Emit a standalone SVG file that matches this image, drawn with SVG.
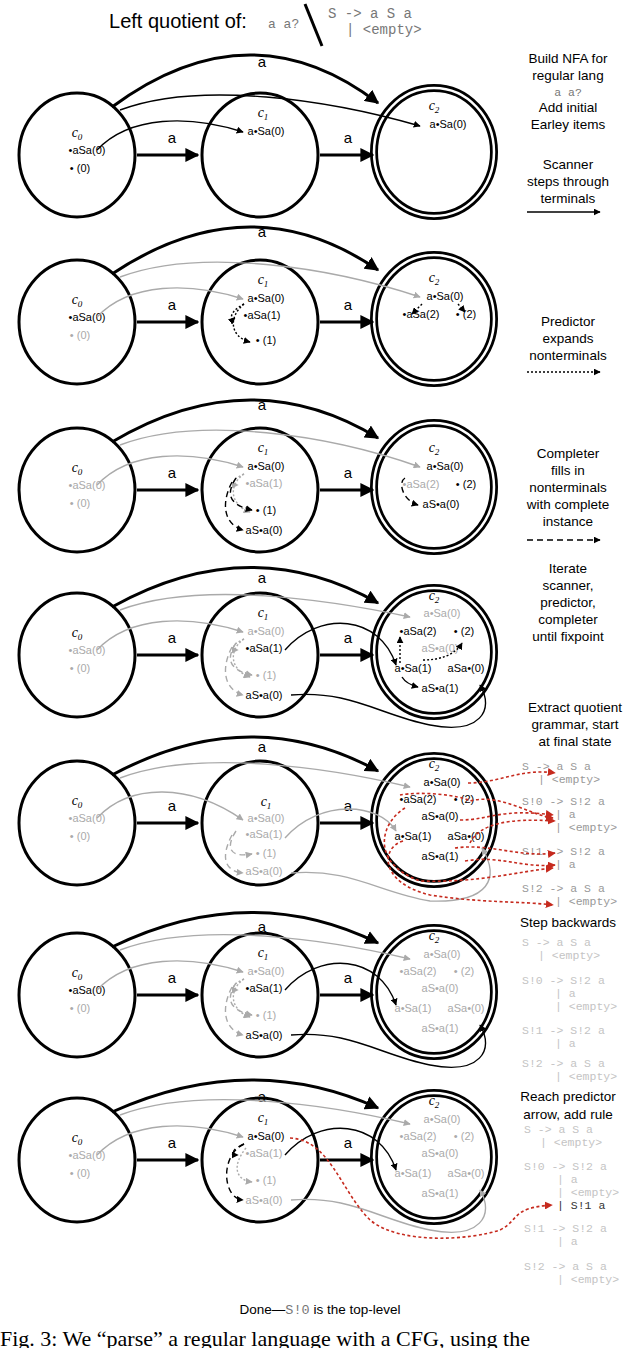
<svg xmlns="http://www.w3.org/2000/svg" width="640" height="1348" viewBox="0 0 640 1348">
<style>
text{font-family:"Liberation Sans",Arial,sans-serif;fill:#000}
.it{font-size:11px;text-anchor:middle}
.g{fill:#aaa}
.cl{font-family:"Liberation Serif",serif;font-style:italic;font-size:14px;text-anchor:middle}
.st{fill:none;stroke:#000;stroke-width:3}
.c2o{fill:none;stroke:#000;stroke-width:8}
.c2i{fill:none;stroke:#fff;stroke-width:2.5}
.tr{fill:none;stroke:#000;stroke-width:3;marker-end:url(#ab)}
.ln{fill:none;stroke:#000;stroke-width:1.4;marker-end:url(#as)}
.lg{fill:none;stroke:#aaa;stroke-width:1.4;marker-end:url(#ag)}
.dot{fill:none;stroke:#000;stroke-width:1.4;stroke-dasharray:2 2;marker-end:url(#as)}
.dotg{fill:none;stroke:#aaa;stroke-width:1.4;stroke-dasharray:2 2;marker-end:url(#ag)}
.dsh{fill:none;stroke:#000;stroke-width:1.4;stroke-dasharray:6 4;marker-end:url(#as)}
.dshg{fill:none;stroke:#aaa;stroke-width:1.4;stroke-dasharray:6 4;marker-end:url(#ag)}
.red{fill:none;stroke:#c62a1e;stroke-width:1.6;stroke-dasharray:3 2.5;marker-end:url(#ar)}
.lbl{font-size:15px;text-anchor:middle}
.rt{font-size:13.5px;text-anchor:middle}
.mono{font-family:"Liberation Mono","Courier New",monospace}
.serif{font-family:"Liberation Serif","Times New Roman",serif}
.gm{font-family:"Liberation Mono",monospace;font-size:11.5px;fill:#999}
.gl{font-family:"Liberation Mono",monospace;font-size:11.5px;fill:#c4c4c4}
</style>
<defs>
<marker id="ab" viewBox="0 0 10 10" refX="9" refY="5" markerWidth="14" markerHeight="14" markerUnits="userSpaceOnUse" orient="auto"><path d="M0,0L10,5L0,10z"/></marker>
<marker id="as" viewBox="0 0 10 10" refX="9" refY="5" markerWidth="7" markerHeight="7" markerUnits="userSpaceOnUse" orient="auto"><path d="M0,0L10,5L0,10z"/></marker>
<marker id="ag" viewBox="0 0 10 10" refX="9" refY="5" markerWidth="7" markerHeight="7" markerUnits="userSpaceOnUse" orient="auto"><path d="M0,0L10,5L0,10z" fill="#aaa"/></marker>
<marker id="ar" viewBox="0 0 10 10" refX="9" refY="5" markerWidth="8" markerHeight="8" markerUnits="userSpaceOnUse" orient="auto"><path d="M0,0L10,5L0,10z" fill="#c62a1e"/></marker>
</defs>

<g id="title">
<text x="178" y="28" font-size="20" text-anchor="middle">Left quotient of:</text>
<text x="268" y="28" class="mono" font-size="13" style="fill:#777">a a?</text>
<path d="M305,4L322,46" stroke="#000" stroke-width="3"/>
<text x="328" y="18" class="mono" font-size="14" style="fill:#777">S -&gt; a S a</text>
<text x="346" y="34" class="mono" font-size="14" style="fill:#777">| &lt;empty&gt;</text>
</g>

<g id="side-text">
<text class="rt" x="568" y="63">Build NFA for</text>
<text class="rt" x="568" y="80">regular lang</text>
<text class="gm" x="568" y="96" text-anchor="middle" style="fill:#777">a a?</text>
<text class="rt" x="568" y="112">Add initial</text>
<text class="rt" x="568" y="129">Earley items</text>
<text class="rt" x="568" y="169">Scanner</text>
<text class="rt" x="568" y="186">steps through</text>
<text class="rt" x="568" y="203">terminals</text>
<path d="M527,212L600,212" class="ln"/>
<text class="rt" x="568" y="326">Predictor</text>
<text class="rt" x="568" y="343">expands</text>
<text class="rt" x="568" y="360">nonterminals</text>
<path d="M527,372L600,372" class="dot"/>
<text class="rt" x="568" y="458">Completer</text>
<text class="rt" x="568" y="475">fills in</text>
<text class="rt" x="568" y="492">nonterminals</text>
<text class="rt" x="568" y="509">with complete</text>
<text class="rt" x="568" y="526">instance</text>
<path d="M527,540L600,540" class="dsh"/>
<text class="rt" x="568" y="573">Iterate</text>
<text class="rt" x="568" y="590">scanner,</text>
<text class="rt" x="568" y="607">predictor,</text>
<text class="rt" x="568" y="624">completer</text>
<text class="rt" x="568" y="641">until fixpoint</text>
<text class="rt" x="575" y="712">Extract quotient</text>
<text class="rt" x="575" y="729">grammar, start</text>
<text class="rt" x="575" y="746">at final state</text>
<text class="gm" x="522" y="770">S -&gt; a S a</text>
<text class="gm" x="538" y="783">| &lt;empty&gt;</text>
<text class="gm" x="522" y="805">S!0 -&gt; S!2 a</text>
<text class="gm" x="555" y="818">| a</text>
<text class="gm" x="555" y="831">| &lt;empty&gt;</text>
<text class="gm" x="522" y="855">S!1 -&gt; S!2 a</text>
<text class="gm" x="555" y="868">| a</text>
<text class="gm" x="522" y="892">S!2 -&gt; a S a</text>
<text class="gm" x="555" y="905">| &lt;empty&gt;</text>
<text class="rt" x="568" y="927">Step backwards</text>
<text class="gl" x="522" y="946">S -&gt; a S a</text>
<text class="gl" x="538" y="959">| &lt;empty&gt;</text>
<text class="gl" x="522" y="984">S!0 -&gt; S!2 a</text>
<text class="gl" x="555" y="997">| a</text>
<text class="gl" x="555" y="1010">| &lt;empty&gt;</text>
<text class="gl" x="522" y="1034">S!1 -&gt; S!2 a</text>
<text class="gl" x="555" y="1047">| a</text>
<text class="gl" x="522" y="1067">S!2 -&gt; a S a</text>
<text class="gl" x="555" y="1080">| &lt;empty&gt;</text>
<text class="rt" x="568" y="1101">Reach predictor</text>
<text class="rt" x="568" y="1119">arrow, add rule</text>
<text class="gl" x="524" y="1133">S -&gt; a S a</text>
<text class="gl" x="540" y="1146">| &lt;empty&gt;</text>
<text class="gl" x="524" y="1170">S!0 -&gt; S!2 a</text>
<text class="gl" x="557" y="1183">| a</text>
<text class="gl" x="557" y="1196">| &lt;empty&gt;</text>
<text class="gm" x="557" y="1209" style="fill:#333">| S!1 a</text>
<text class="gl" x="524" y="1232">S!1 -&gt; S!2 a</text>
<text class="gl" x="557" y="1245">| a</text>
<text class="gl" x="524" y="1270">S!2 -&gt; a S a</text>
<text class="gl" x="557" y="1283">| &lt;empty&gt;</text>
<text x="320" y="1314" font-size="13.5" text-anchor="middle">Done—<tspan class="mono" style="fill:#777">S!0</tspan> is the top-level</text>
<text x="0" y="1346" class="serif" font-size="22">Fig. 3: We “parse” a regular language with a CFG, using the</text>
</g>

<!-- Panel 1 -->
<g id="panel1" transform="translate(0,155)">
<g id="p1-c0"><ellipse cx="77" cy="0" rx="58" ry="62" class="st"/><text class="cl" x="77" y="-18">c<tspan font-size="9" dy="3">0</tspan></text><text class="it" x="87" y="-1">•aSa(0)</text><text class="it" x="80" y="17">• (0)</text></g>
<g id="p1-c1"><ellipse cx="260" cy="0" rx="58" ry="62" class="st"/><text class="cl" x="263" y="-38">c<tspan font-size="9" dy="3">1</tspan></text><text class="it" x="266" y="-20">a•Sa(0)</text></g>
<g id="p1-c2"><ellipse cx="434" cy="-3" rx="60" ry="64" class="c2o"/><ellipse cx="434" cy="-3" rx="60" ry="64" class="c2i"/><text class="cl" x="434" y="-45">c<tspan font-size="9" dy="3">2</tspan></text><text class="it" x="448" y="-27">a•Sa(0)</text></g>
<g id="p1-edges">
<path d="M112,-48Q250,-150 378,-52" class="tr"/><text class="lbl" x="262" y="-88">a</text>
<path d="M137,0L198,0" class="tr"/><text class="lbl" x="172" y="-12">a</text>
<path d="M320,0L373,0" class="tr"/><text class="lbl" x="348" y="-12">a</text>
<path d="M97,-5C130,-40 190,-40 243,-23" class="ln"/>
<path d="M120,-45C200,-75 330,-55 420,-29" class="ln"/>
</g>
</g>

<!-- Panel 2 -->
<g id="panel2" transform="translate(0,322)">
<g id="p2-c0"><ellipse cx="77" cy="0" rx="58" ry="62" class="st"/><text class="cl" x="77" y="-18">c<tspan font-size="9" dy="3">0</tspan></text><text class="it" x="87" y="-1">•aSa(0)</text><text class="it g" x="80" y="17">• (0)</text></g>
<g id="p2-c1"><ellipse cx="260" cy="0" rx="58" ry="62" class="st"/><text class="cl" x="263" y="-38">c<tspan font-size="9" dy="3">1</tspan></text><text class="it" x="266" y="-20">a•Sa(0)</text><text class="it" x="262" y="-3">•aSa(1)</text><text class="it" x="266" y="22">• (1)</text></g>
<g id="p2-c2"><ellipse cx="434" cy="-3" rx="60" ry="64" class="c2o"/><ellipse cx="434" cy="-3" rx="60" ry="64" class="c2i"/><text class="cl" x="434" y="-40">c<tspan font-size="9" dy="3">2</tspan></text><text class="it" x="445" y="-22">a•Sa(0)</text><text class="it" x="421" y="-4">•aSa(2)</text><text class="it" x="466" y="-4">• (2)</text></g>
<g id="p2-edges">
<path d="M112,-48Q250,-140 378,-52" class="tr"/><text class="lbl" x="262" y="-85">a</text>
<path d="M137,0L198,0" class="tr"/><text class="lbl" x="172" y="-12">a</text>
<path d="M320,0L373,0" class="tr"/><text class="lbl" x="348" y="-12">a</text>
<path d="M97,-5C130,-40 190,-40 243,-23" class="lg"/>
<path d="M120,-45C200,-75 330,-55 420,-25" class="lg"/>
<path d="M244,-18C228,-10 230,0 235,-4" class="dot"/>
<path d="M244,-18C228,-5 230,15 250,20" class="dot"/>
<path d="M422,-18L412,-8" class="dot"/>
<path d="M458,-18L465,-10" class="dot"/>
</g>
</g>

<!-- Panel 3 -->
<g id="panel3" transform="translate(0,490)">
<g id="p3-c0"><ellipse cx="77" cy="0" rx="58" ry="62" class="st"/><text class="cl" x="77" y="-18">c<tspan font-size="9" dy="3">0</tspan></text><text class="it g" x="87" y="-1">•aSa(0)</text><text class="it g" x="80" y="17">• (0)</text></g>
<g id="p3-c1"><ellipse cx="260" cy="0" rx="58" ry="62" class="st"/><text class="cl" x="263" y="-38">c<tspan font-size="9" dy="3">1</tspan></text><text class="it" x="266" y="-20">a•Sa(0)</text><text class="it g" x="264" y="-3">•aSa(1)</text><text class="it" x="266" y="24">• (1)</text><text class="it" x="264" y="44">aS•a(0)</text></g>
<g id="p3-c2"><ellipse cx="434" cy="-3" rx="60" ry="64" class="c2o"/><ellipse cx="434" cy="-3" rx="60" ry="64" class="c2i"/><text class="cl" x="434" y="-38">c<tspan font-size="9" dy="3">2</tspan></text><text class="it" x="445" y="-20">a•Sa(0)</text><text class="it g" x="421" y="-2">•aSa(2)</text><text class="it" x="466" y="-2">• (2)</text><text class="it" x="441" y="18">aS•a(0)</text></g>
<g id="p3-edges">
<path d="M112,-48Q250,-130 378,-52" class="tr"/><text class="lbl" x="262" y="-80">a</text>
<path d="M137,0L198,0" class="tr"/><text class="lbl" x="172" y="-12">a</text>
<path d="M320,0L373,0" class="tr"/><text class="lbl" x="348" y="-12">a</text>
<path d="M97,-5C130,-40 190,-40 243,-23" class="lg"/>
<path d="M120,-45C200,-75 330,-55 420,-23" class="lg"/>
<path d="M244,-16C230,-10 232,-5 238,-5" class="dotg"/>
<path d="M244,-16C228,-5 230,15 250,22" class="dotg"/>
<path d="M236,-12C225,5 230,15 252,20" class="dsh"/>
<path d="M232,-8C220,15 225,35 243,40" class="dsh"/>
<path d="M405,-12C398,-8 402,10 418,15" class="dsh"/>
</g>
</g>

<!-- Panel 4 -->
<g id="panel4" transform="translate(0,655)">
<g id="p4-c0"><ellipse cx="77" cy="0" rx="58" ry="62" class="st"/><text class="cl" x="77" y="-18">c<tspan font-size="9" dy="3">0</tspan></text><text class="it g" x="87" y="-1">•aSa(0)</text><text class="it g" x="80" y="17">• (0)</text></g>
<g id="p4-c1"><ellipse cx="260" cy="0" rx="58" ry="62" class="st"/><text class="cl" x="263" y="-38">c<tspan font-size="9" dy="3">1</tspan></text><text class="it g" x="266" y="-20">a•Sa(0)</text><text class="it" x="264" y="-3">•aSa(1)</text><text class="it g" x="266" y="24">• (1)</text><text class="it" x="264" y="44">aS•a(0)</text></g>
<g id="p4-c2"><ellipse cx="434" cy="-3" rx="60" ry="64" class="c2o"/><ellipse cx="434" cy="-3" rx="60" ry="64" class="c2i"/><text class="cl" x="434" y="-55">c<tspan font-size="9" dy="3">2</tspan></text><text class="it g" x="442" y="-38">a•Sa(0)</text><text class="it" x="418" y="-20">•aSa(2)</text><text class="it" x="464" y="-20">• (2)</text><text class="it g" x="440" y="-3">aS•a(0)</text><text class="it" x="413" y="17">a•Sa(1)</text><text class="it" x="466" y="17">aSa•(0)</text><text class="it" x="440" y="37">aS•a(1)</text></g>
<g id="p4-edges">
<path d="M112,-48Q250,-125 378,-52" class="tr"/><text class="lbl" x="262" y="-72">a</text>
<path d="M137,0L198,0" class="tr"/><text class="lbl" x="172" y="-12">a</text>
<path d="M320,0L373,0" class="tr"/><text class="lbl" x="348" y="-12">a</text>
<path d="M97,-5C130,-40 190,-40 243,-23" class="lg"/>
<path d="M120,-45C200,-75 330,-55 410,-38" class="lg"/>
<path d="M244,-16C230,-10 232,-5 238,-5" class="dotg"/>
<path d="M244,-16C228,-5 230,15 250,22" class="dotg"/>
<path d="M236,-12C225,5 230,15 252,20" class="dshg"/>
<path d="M232,-8C220,15 225,35 243,40" class="dshg"/>
<path d="M285,-5C320,-45 380,-40 396,10" class="ln"/>
<path d="M291,40C350,35 380,60 430,70C480,80 495,55 480,30" class="ln"/>
<path d="M400,8L400,-18" class="dot"/>
<path d="M423,5C440,5 455,0 462,-12" class="dot"/>
<path d="M402,22C405,27 410,30 418,32" class="ln"/>
</g>
</g>

<!-- Panel 5 -->
<g id="panel5" transform="translate(0,823)">
<g id="p5-c0"><ellipse cx="77" cy="0" rx="58" ry="62" class="st"/><text class="cl" x="77" y="-18">c<tspan font-size="9" dy="3">0</tspan></text><text class="it g" x="87" y="-1">•aSa(0)</text><text class="it g" x="80" y="17">• (0)</text></g>
<g id="p5-c1"><ellipse cx="260" cy="0" rx="58" ry="62" class="st"/><text class="cl" x="266" y="-17">c<tspan font-size="9" dy="3">1</tspan></text><text class="it g" x="266" y="-1">a•Sa(0)</text><text class="it g" x="264" y="15">•aSa(1)</text><text class="it g" x="266" y="34">• (1)</text><text class="it g" x="264" y="52">aS•a(0)</text></g>
<g id="p5-c2"><ellipse cx="434" cy="-3" rx="60" ry="64" class="c2o"/><ellipse cx="434" cy="-3" rx="60" ry="64" class="c2i"/><text class="cl" x="434" y="-55">c<tspan font-size="9" dy="3">2</tspan></text><text class="it" x="442" y="-37">a•Sa(0)</text><text class="it" x="418" y="-20">•aSa(2)</text><text class="it" x="464" y="-20">• (2)</text><text class="it" x="440" y="-3">aS•a(0)</text><text class="it" x="413" y="17">a•Sa(1)</text><text class="it" x="466" y="17">aSa•(0)</text><text class="it" x="440" y="37">aS•a(1)</text></g>
<g id="p5-edges">
<path d="M112,-48Q250,-122 378,-52" class="tr"/><text class="lbl" x="262" y="-71">a</text>
<path d="M137,0L198,0" class="tr"/><text class="lbl" x="172" y="-12">a</text>
<path d="M320,0L373,0" class="tr"/><text class="lbl" x="348" y="-12">a</text>
<path d="M97,-5C130,-40 190,-40 243,-3" class="lg"/>
<path d="M120,-45C200,-75 330,-55 410,-36" class="lg"/>
<path d="M236,8C225,25 230,35 252,31" class="dshg"/>
<path d="M232,12C220,35 225,48 243,50" class="dshg"/>
<path d="M285,15C320,-25 380,-20 396,8" class="lg"/>
<path d="M291,50C350,45 380,70 430,78C490,80 500,55 482,25" class="lg"/>
<path d="M468,-40C500,-40 520,-55 555,-50" class="red"/>
<path d="M400,-28C420,-32 460,-28 470,-22C500,-30 530,-8 553,-5" class="red"/>
<path d="M460,-3C490,-3 500,-15 553,-8" class="red"/>
<path d="M470,20C480,0 510,-5 555,-2" class="red"/>
<path d="M405,-15C380,0 370,40 420,58C480,60 520,48 553,45" class="red"/>
<path d="M403,18C380,25 380,60 430,72C480,80 520,78 553,82" class="red"/>
<path d="M455,25C490,20 520,35 555,30" class="red"/>
<path d="M465,38C500,32 520,45 555,42" class="red"/>
</g>
</g>

<!-- Panel 6 -->
<g id="panel6" transform="translate(0,995)">
<g id="p6-c0"><ellipse cx="77" cy="0" rx="58" ry="62" class="st"/><text class="cl" x="77" y="-18">c<tspan font-size="9" dy="3">0</tspan></text><text class="it" x="87" y="-1">•aSa(0)</text><text class="it g" x="80" y="17">• (0)</text></g>
<g id="p6-c1"><ellipse cx="260" cy="0" rx="58" ry="62" class="st"/><text class="cl" x="263" y="-38">c<tspan font-size="9" dy="3">1</tspan></text><text class="it g" x="266" y="-20">a•Sa(0)</text><text class="it" x="264" y="-3">•aSa(1)</text><text class="it g" x="266" y="24">• (1)</text><text class="it" x="264" y="44">aS•a(0)</text></g>
<g id="p6-c2"><ellipse cx="434" cy="-3" rx="60" ry="64" class="c2o"/><ellipse cx="434" cy="-3" rx="60" ry="64" class="c2i"/><text class="cl" x="434" y="-55">c<tspan font-size="9" dy="3">2</tspan></text><text class="it g" x="442" y="-37">a•Sa(0)</text><text class="it g" x="418" y="-20">•aSa(2)</text><text class="it g" x="464" y="-20">• (2)</text><text class="it g" x="440" y="-3">aS•a(0)</text><text class="it g" x="413" y="17">a•Sa(1)</text><text class="it g" x="466" y="17">aSa•(0)</text><text class="it g" x="440" y="37">aS•a(1)</text></g>
<g id="p6-edges">
<path d="M112,-48Q250,-115 378,-52" class="tr"/><text class="lbl" x="262" y="-63">a</text>
<path d="M137,0L198,0" class="tr"/><text class="lbl" x="172" y="-12">a</text>
<path d="M320,0L373,0" class="tr"/><text class="lbl" x="348" y="-12">a</text>
<path d="M97,-5C130,-40 190,-40 243,-23" class="lg"/>
<path d="M120,-45C200,-75 330,-55 410,-36" class="lg"/>
<path d="M244,-16C230,-10 232,-5 238,-5" class="dotg"/>
<path d="M244,-16C228,-5 230,15 250,22" class="dotg"/>
<path d="M236,-12C225,5 230,15 252,20" class="dshg"/>
<path d="M232,-8C220,15 225,35 243,40" class="dshg"/>
<path d="M285,-5C320,-45 380,-40 396,10" class="ln"/>
<path d="M291,40C350,35 380,60 430,70C480,80 495,55 480,30" class="ln"/>
</g>
</g>

<!-- Panel 7 -->
<g id="panel7" transform="translate(0,1160)">
<g id="p7-c0"><ellipse cx="77" cy="0" rx="58" ry="62" class="st"/><text class="cl" x="77" y="-18">c<tspan font-size="9" dy="3">0</tspan></text><text class="it g" x="87" y="-1">•aSa(0)</text><text class="it g" x="80" y="17">• (0)</text></g>
<g id="p7-c1"><ellipse cx="260" cy="0" rx="58" ry="62" class="st"/><text class="cl" x="263" y="-38">c<tspan font-size="9" dy="3">1</tspan></text><text class="it" x="266" y="-20">a•Sa(0)</text><text class="it g" x="264" y="-3">•aSa(1)</text><text class="it g" x="266" y="24">• (1)</text><text class="it g" x="264" y="44">aS•a(0)</text></g>
<g id="p7-c2"><ellipse cx="434" cy="-3" rx="60" ry="64" class="c2o"/><ellipse cx="434" cy="-3" rx="60" ry="64" class="c2i"/><text class="cl" x="434" y="-55">c<tspan font-size="9" dy="3">2</tspan></text><text class="it g" x="442" y="-37">a•Sa(0)</text><text class="it g" x="418" y="-20">•aSa(2)</text><text class="it g" x="464" y="-20">• (2)</text><text class="it g" x="440" y="-3">aS•a(0)</text><text class="it g" x="413" y="17">a•Sa(1)</text><text class="it g" x="466" y="17">aSa•(0)</text><text class="it g" x="440" y="37">aS•a(1)</text></g>
<g id="p7-edges">
<path d="M112,-48Q250,-110 378,-52" class="tr"/><text class="lbl" x="262" y="-58">a</text>
<path d="M137,0L198,0" class="tr"/><text class="lbl" x="172" y="-12">a</text>
<path d="M320,0L373,0" class="tr"/><text class="lbl" x="348" y="-12">a</text>
<path d="M97,-5C130,-40 190,-40 243,-23" class="lg"/>
<path d="M120,-45C200,-75 330,-55 410,-36" class="lg"/>
<path d="M244,-16C230,-10 232,-5 238,-5" class="dsh"/>
<path d="M244,-16C220,-5 222,38 243,40" class="dsh"/>
<path d="M246,-12C232,5 235,20 252,22" class="dotg"/>
<path d="M285,-5C320,-45 380,-40 396,10" class="ln"/>
<path d="M291,40C350,35 380,60 430,70C480,80 495,55 480,30" class="lg"/>
<path d="M290,-22C330,-20 340,30 370,60C400,85 470,80 500,70C520,60 510,48 552,45" class="red"/>
</g>
</g>
</svg>
